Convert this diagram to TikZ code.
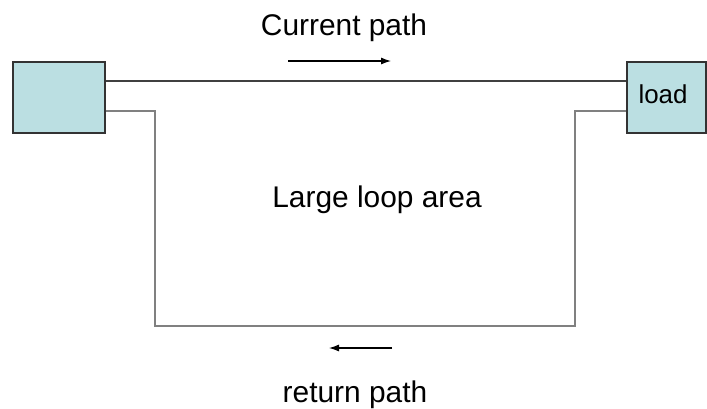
\documentclass[tikz,border=0pt]{standalone}
\usepackage{fontspec}
\setmainfont{Liberation Sans}
\usetikzlibrary{arrows.meta}
\begin{document}
\begin{tikzpicture}[x=1bp,y=-1bp,
  blk/.style={draw=black!80,line width=1.6bp,fill={rgb,255:red,187;green,223;blue,226},inner sep=0pt,anchor=north west},
  lbl/.style={font=\fontsize{30}{34}\selectfont,inner sep=0pt,anchor=base},
  wire/.style={draw=black!75,line width=1.4bp},
  ret/.style={draw=black!50,line width=2bp},
  flow/.style={draw=black,line width=1.1bp,-{Latex[length=10bp,width=7bp]}}]
\useasboundingbox (0,0) rectangle (707,408);
\node[blk,minimum width=92bp,minimum height=71bp] (src) at (12,61) {};
\node[blk,minimum width=79bp,minimum height=71bp] (load) at (626,61) {};
\node[lbl,font=\fontsize{26}{30}\selectfont] (loadtxt) at (663,103) {load};
\coordinate (s1) at (src.east |- 0,81);
\coordinate (l1) at (load.west |- 0,81);
\draw[wire] (s1) -- (l1);
\coordinate (s2) at (src.east |- 0,111);
\coordinate (l2) at (load.west |- 0,111);
\draw[ret] (s2) -- (155,111) -- (155,326) -- (575,326) -- (575,111) -- (l2);
\node[lbl] (cur) at (344,35) {Current path};
\node[lbl] (big) at (377,207) {Large loop area};
\node[lbl] (rp) at (355,402) {return path};
\coordinate (a1) at (288,61);
\coordinate (a2) at (391,61);
\draw[flow] (a1) -- (a2);
\coordinate (b1) at (392,348);
\coordinate (b2) at (329,348);
\draw[flow] (b1) -- (b2);
\end{tikzpicture}
\end{document}
